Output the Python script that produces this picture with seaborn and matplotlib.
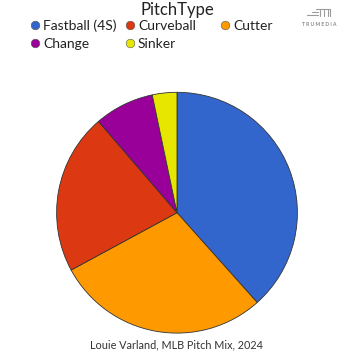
import matplotlib
matplotlib.use("Agg")
import matplotlib.pyplot as plt
from matplotlib.lines import Line2D
import seaborn as sns

# Pitch mix shares (percent of pitches thrown)
pitch_types = ["Fastball (4S)", "Cutter", "Curveball", "Change", "Sinker"]
shares = [38.4, 28.7, 21.6, 8.0, 3.3]
colors = ["#3366CC", "#FF9900", "#DC3912", "#990099", "#E6E600"]

# Legend order as shown in the header
legend_order = ["Fastball (4S)", "Curveball", "Cutter", "Change", "Sinker"]

sns.set_theme(style="white")
plt.rcParams["font.family"] = ["Lato", "DejaVu Sans"]

W = H = 354
fig = plt.figure(figsize=(W / 100, H / 100), dpi=100)
fig.patch.set_facecolor("white")

# Pie axes: centre (177, 212.7) px, radius 121 px
cx, cy, r = 177, 212.7, 121
ax = fig.add_axes([(cx - r) / W, (H - cy - r) / H, 2 * r / W, 2 * r / H])
ax.pie(shares, colors=colors, startangle=90, counterclock=False,
       wedgeprops=dict(edgecolor="#333333", linewidth=0.6))
ax.set_xlim(-1.005, 1.005)
ax.set_ylim(-1.005, 1.005)
ax.set_aspect("equal")
ax.axis("off")

def fx(px):
    return px / W

def fy(py):
    return 1 - py / H

# Legend title
fig.text(fx(177), fy(14.5), "PitchType", ha="center", va="baseline",
         fontsize=12, color="#222222")

# Legend entries on a fixed grid
color_map = dict(zip(pitch_types, colors))
positions = [(35, 24.5), (130, 24.5), (225, 24.5), (35, 42.5), (130, 42.5)]
for name, (px, py) in zip(legend_order, positions):
    fig.add_artist(Line2D([fx(px)], [fy(py)], marker="o", markersize=6.2,
                          markerfacecolor=color_map[name],
                          markeredgecolor="#555555", markeredgewidth=0.4,
                          transform=fig.transFigure))
    fig.text(fx(px + 8), fy(py + 5.5), name, ha="left", va="baseline",
             fontsize=10, color="#222222")

# Caption
fig.text(fx(177), fy(345), "Louie Varland, MLB Pitch Mix, 2024",
         ha="center", va="center", fontsize=7.8, color="#333333")

# TruMedia mark
logo_c = "#9a9a9a"
for (x0, x1, y) in [(307, 318, 14.5), (312, 318, 12), (316, 330, 9)]:
    fig.add_artist(Line2D([fx(x0), fx(x1)], [fy(y), fy(y)], color=logo_c,
                          linewidth=0.8, transform=fig.transFigure))
for x in [320, 324, 328]:
    fig.add_artist(Line2D([fx(x), fx(x)], [fy(10), fy(16)], color=logo_c,
                          linewidth=0.8, transform=fig.transFigure))
fig.add_artist(Line2D([fx(330), fx(330)], [fy(9), fy(16)], color=logo_c,
                      linewidth=0.8, transform=fig.transFigure))
fig.text(fx(319), fy(25), "T R U M E D I A", ha="center", va="center",
         fontsize=3.6, color="#888888", fontweight="bold")

fig.savefig("out.png", dpi=100, facecolor="white")
